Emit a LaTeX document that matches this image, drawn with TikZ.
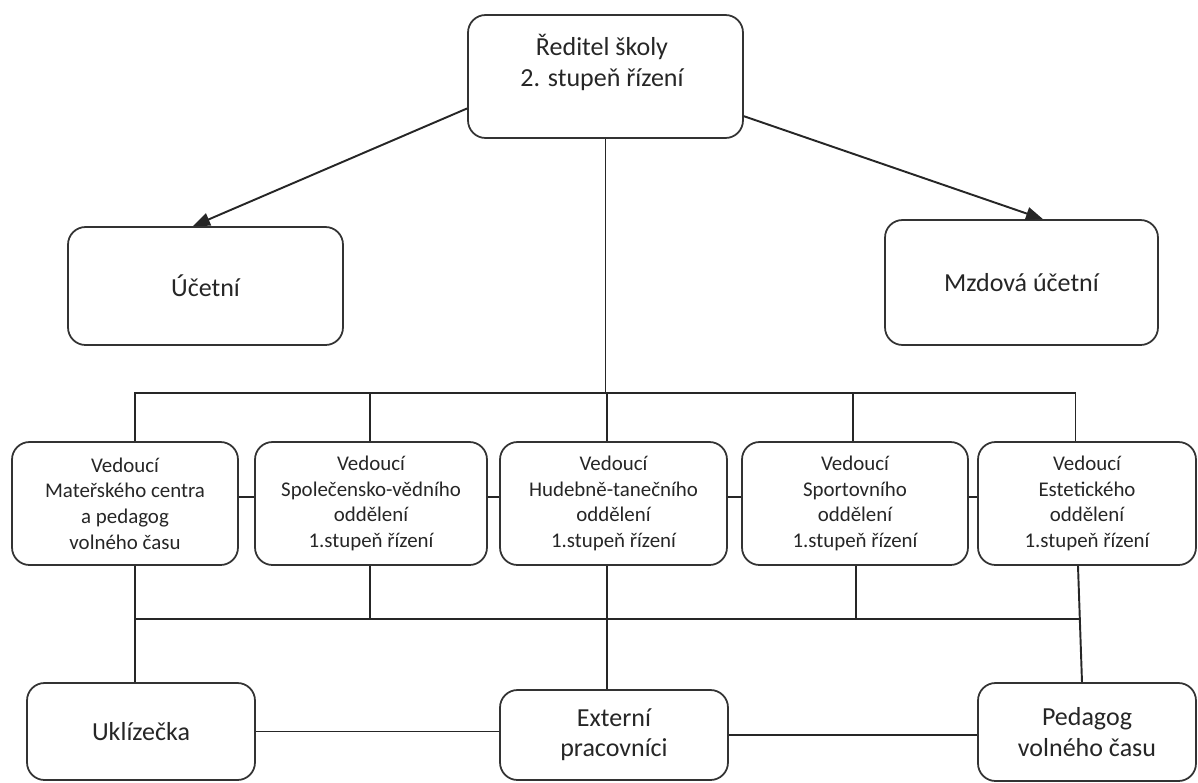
\documentclass[tikz,border=0pt]{standalone}
\usepackage{fontspec}
\setmainfont{Carlito}
\usetikzlibrary{arrows.meta, positioning}
\tikzset{
    box/.style={rectangle, draw=black!80, line width=1pt, rounded corners=0.35cm, fill=white, align=center, text=black!85, font=\fontsize{14.8}{17.3}\selectfont},
    unit/.style={box, minimum height=2.46cm, font=\fontsize{11.9}{14.6}\selectfont},
    boxtext/.style={align=center, text=black!85, font=\fontsize{14.8}{17.6}\selectfont},
    link/.style={draw=black!85, line width=1.1pt},
    arrow/.style={link, -{Triangle[length=0.34cm, width=0.26cm]}}
}

\begin{document}
\begin{tikzpicture}[x=0.02cm, y=-0.02cm]
    \useasboundingbox (0,0) rectangle (1198,782);

    % top
    \node (reditel) [box, minimum width=5.5cm, minimum height=2.46cm] at (605.5,76.5) {};
    \node (reditel_text) [boxtext] at (602,62) {Ředitel školy\\2. stupeň řízení};
    \node (ucetni) [box, minimum width=5.5cm, minimum height=2.36cm] at (205.5,286) {Účetní};
    \node (mzdova) [box, minimum width=5.46cm, minimum height=2.5cm] at (1021.5,282.5) {Mzdová účetní};

    % units
    \node (mc) [unit, minimum width=4.52cm] at (125,503.5) {Vedoucí\\Mateřského centra\\a pedagog\\volného času};
    \node (sv) [unit, minimum width=4.64cm] at (371,503.5) {Vedoucí\\Společensko-vědního\\oddělení\\1.stupeň řízení};
    \node (ht) [unit, minimum width=4.54cm] at (613.5,503.5) {Vedoucí\\Hudebně-tanečního\\oddělení\\1.stupeň řízení};
    \node (sp) [unit, minimum width=4.52cm] at (855,503.5) {Vedoucí\\Sportovního\\oddělení\\1.stupeň řízení};
    \node (es) [unit, minimum width=4.36cm] at (1087,503.5) {Vedoucí\\Estetického\\oddělení\\1.stupeň řízení};

    % bottom
    \node (ukl) [box, minimum width=4.56cm, minimum height=1.94cm] at (141,731.5) {Uklízečka};
    \node (ext) [box, minimum width=4.56cm, minimum height=1.8cm] at (614,735) {Externí\\pracovníci};
    \node (ped) [box, minimum width=4.36cm, minimum height=1.96cm] at (1087,732) {Pedagog\\volného času};

    % arrows
    \draw[arrow] (reditel.193) -- ([xshift=-0.25cm]ucetni.north);
    \draw[arrow] (reditel.-16) -- ([xshift=0.43cm]mzdova.north);

    % buses
    \coordinate (bus_top_l) at (135,393);
    \coordinate (bus_top_r) at (1076,393);
    \coordinate (bus_low_l) at (135,619);
    \coordinate (bus_low_r) at (1079,619);
    \draw[link] (bus_top_l) -- (bus_top_r);
    \draw[link] (bus_low_l) -- (bus_low_r);
    \draw[link] (reditel.south) -- (reditel.south |- bus_top_l);

    \foreach \n/\dx in {mc/0.2cm, sv/-0.02cm, ht/-0.13cm, sp/-0.04cm, es/-0.23cm}
        \draw[link] ([xshift=\dx]\n.north) -- ++(0,-49);

    \foreach \a/\b in {mc/sv, sv/ht, ht/sp, sp/es}
        \draw[link] ([yshift=0.13cm]\a.east) -- ([yshift=0.13cm]\b.west);

    \draw[link] ([xshift=0.2cm]mc.south) -- ([xshift=-0.12cm]ukl.north);
    \draw[link] ([xshift=-0.02cm]sv.south) -- ++(0,54);
    \draw[link] ([xshift=-0.13cm]ht.south) -- ([xshift=-0.14cm]ext.north);
    \draw[link] ([xshift=0.02cm]sp.south) -- ++(0,54);
    \draw[link] ([xshift=-0.18cm]es.south) -- ([xshift=-0.1cm]ped.north);

    \draw[link] (ukl.east) -- (ukl.east -| ext.west);
    \draw[link] (ext.east) -- (ext.east -| ped.west);
\end{tikzpicture}
\end{document}
